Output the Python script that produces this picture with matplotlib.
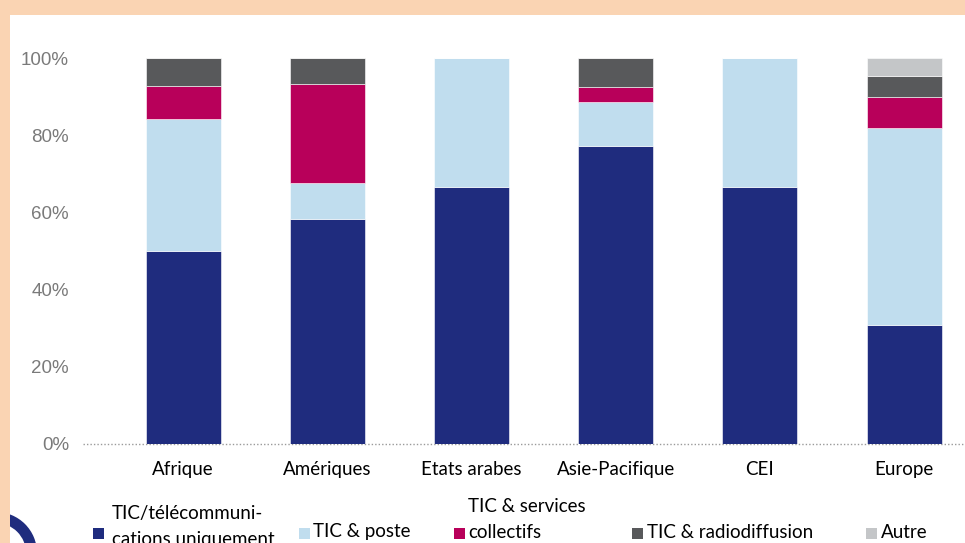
import matplotlib
matplotlib.use("Agg")
import matplotlib.pyplot as plt
from matplotlib.patches import Rectangle, Annulus
import numpy as np

categories = ["Afrique", "Amériques", "Etats arabes", "Asie-Pacifique", "CEI", "Europe"]
series_names = ["TIC/télécommuni-\ncations uniquement", "TIC & poste",
                "TIC & services\ncollectifs", "TIC & radiodiffusion", "Autre"]
tic_telecom = [50.0, 58.3, 66.7, 77.2, 66.6, 30.8]
tic_poste = [34.2, 9.3, 33.3, 11.4, 33.4, 51.1]
tic_services = [8.5, 25.7, 0.0, 3.9, 0.0, 8.0]
tic_radio = [7.3, 6.7, 0.0, 7.5, 0.0, 5.4]
autre = [0.0, 0.0, 0.0, 0.0, 0.0, 4.7]
yticks = [0, 20, 40, 60, 80, 100]
ytick_labels = ["0%", "20%", "40%", "60%", "80%", "100%"]

colors = ["#1F2C7E", "#C0DDEE", "#B8005A", "#58595B", "#C4C6C8"]
series = [tic_telecom, tic_poste, tic_services, tic_radio, autre]

W, H = 965, 543
fig = plt.figure(figsize=(W / 100, H / 100), dpi=100)
fig.patch.set_facecolor("#FAD4B3")

# background overlay in pixel coordinates
bg = fig.add_axes([0, 0, 1, 1], zorder=0)
bg.set_xlim(0, W)
bg.set_ylim(H, 0)
bg.axis("off")
bg.add_patch(Rectangle((10, 15), W - 10, H - 15, facecolor="white", edgecolor="none"))
bg.add_patch(Annulus((-4, 553), 41, 11, facecolor="#1F2C7E", edgecolor="none"))
bg.add_patch(Rectangle((0, 480), 10, 70, facecolor="#FAD4B3", edgecolor="none"))

# main axes: 0% at y=444, 100% at y=58; left at x=83
x0, x1 = 83, 965
y0, y1 = 444, 58
ax = fig.add_axes([x0 / W, 1 - y0 / H, (x1 - x0) / W, (y0 - y1) / H], zorder=1)
ax.patch.set_alpha(0)
x = np.arange(len(categories))
spacing = 144.2
ax.set_xlim(-100 / spacing, -100 / spacing + (x1 - x0) / spacing)
ax.set_ylim(0, 100)

bottom = np.zeros(len(categories))
for vals, c in zip(series, colors):
    ax.bar(x, vals, bottom=bottom, width=75 / spacing, color=c,
           edgecolor="white", linewidth=0.4, zorder=2)
    bottom += np.array(vals)

for s in ax.spines.values():
    s.set_visible(False)
ax.axhline(0, color="#9A9A9A", linewidth=1.0, linestyle=(0, (1, 1.5)),
           zorder=1, clip_on=False)

ax.set_yticks(yticks)
ax.set_yticklabels(ytick_labels, family="Liberation Sans", fontsize=13.5, color="#7A7A7A")
ax.tick_params(axis="y", length=0, pad=10)
ax.set_xticks(x)
ax.set_xticklabels(categories, family="Lato", fontsize=13.5, color="black")
ax.tick_params(axis="x", length=0, pad=12)

# legend (manual, pixel coordinates)
leg_items = [
    (93, 533, 112, 540, series_names[0]),
    (299, 533, 313, 532, series_names[1]),
    (454, 533, 468, 532, series_names[2]),
    (632, 533, 647, 532, series_names[3]),
    (866, 533, 881, 532, series_names[4]),
]
for (mx, my, tx, ly, label), c in zip(leg_items, colors):
    bg.add_patch(Rectangle((mx, my - 5.5), 11, 11, facecolor=c, edgecolor="none"))
    lines = label.split("\n")
    for i, line in enumerate(reversed(lines)):
        bg.text(tx, ly - i * 26, line, family="Lato", fontsize=13.5, color="black",
                va="center", ha="left")

fig.savefig("out.png", dpi=100, facecolor=fig.get_facecolor())
